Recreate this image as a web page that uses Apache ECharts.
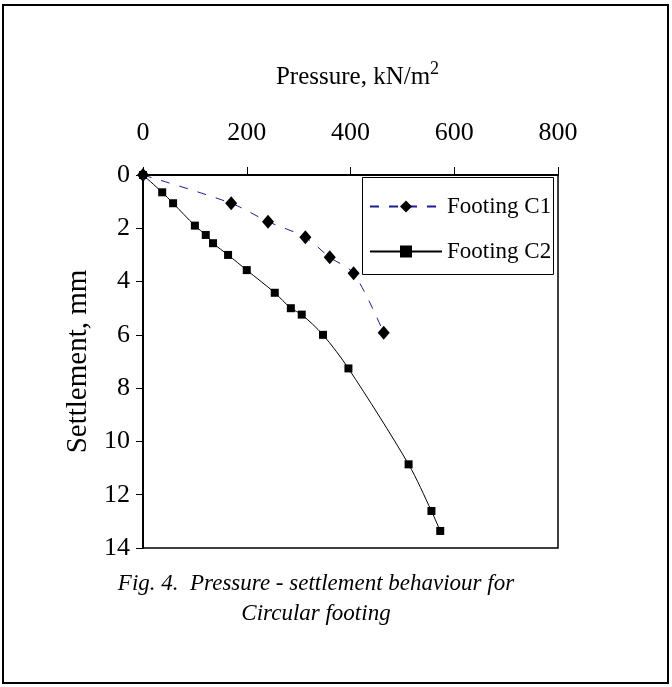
<!DOCTYPE html>
<html>
<head>
<meta charset="utf-8">
<script src="https://cdn.jsdelivr.net/npm/echarts@6/dist/echarts.min.js"></script>
<style>
  html, body { margin: 0; padding: 0; background: #fff; }
  #chart { width: 672px; height: 687px; }
</style>
</head>
<body>
<div id="chart"></div>
<script>
// pressure (kN/m2) vs settlement (mm)
const c1Pressure = [0, 170, 241, 313, 360, 406, 464];
const c1Settlement = [0, 1.06, 1.75, 2.34, 3.09, 3.69, 5.92];
const c2Pressure = [0, 37, 58, 100, 121, 135, 164, 200, 254, 285, 306, 347, 396, 512, 556, 573];
const c2Settlement = [0, 0.65, 1.06, 1.9, 2.25, 2.56, 3.0, 3.57, 4.42, 5.0, 5.24, 6.0, 7.26, 10.86, 12.61, 13.36];
const seriesNames = ["Footing C1", "Footing C2"];

const font = "'Liberation Serif', 'Times New Roman', serif";
const pairs = (xs, ys) => xs.map((x, i) => [x, ys[i]]);

const chart = echarts.init(document.getElementById("chart"));
chart.setOption({
  backgroundColor: "#fff",
  animation: false,
  textStyle: { fontFamily: font, color: "#000" },
  grid: {
    left: 143, top: 175, width: 415, height: 373,
    show: true, borderColor: "#000", borderWidth: 1.5,
  },
  legend: {
    data: seriesNames,
    orient: "vertical",
    left: 364, top: 190,
    itemWidth: 72, itemHeight: 15, itemGap: 22,
    textStyle: { fontFamily: font, fontSize: 23, color: "#000" },
  },
  xAxis: {
    type: "value",
    position: "top",
    min: 0, max: 800, interval: 200,
    name: "Pressure, kN/m{s|2}",
    nameLocation: "middle",
    nameGap: 80,
    nameTextStyle: {
      fontFamily: font, fontSize: 25, color: "#000", padding: [0, 0, 0, 14],
      rich: { s: { fontFamily: font, fontSize: 18, color: "#000", padding: [0, 0, 17, 0] } },
    },
    axisLine: { lineStyle: { color: "#000", width: 2 } },
    axisTick: { length: 8, lineStyle: { color: "#000" } },
    axisLabel: { fontFamily: font, fontSize: 26, color: "#000", margin: 29 },
    splitLine: { show: false },
  },
  yAxis: {
    type: "value",
    inverse: true,
    min: 0, max: 14, interval: 2,
    name: "Settlement, mm",
    nameLocation: "middle",
    nameRotate: 90,
    nameGap: 46,
    nameTextStyle: { fontFamily: font, fontSize: 29, color: "#000" },
    axisLine: { lineStyle: { color: "#000", width: 2 } },
    axisTick: { length: 7, lineStyle: { color: "#000" } },
    axisLabel: { fontFamily: font, fontSize: 26, color: "#000", margin: 13 },
    splitLine: { show: false },
  },
  series: [
    {
      name: seriesNames[0],
      type: "line",
      data: pairs(c1Pressure, c1Settlement),
      smooth: 0.3,
      symbol: "diamond",
      symbolSize: [12, 14],
      itemStyle: { color: "#000" },
      lineStyle: { color: "#1c1c96", width: 1, type: [9, 10] },
    },
    {
      name: seriesNames[1],
      type: "line",
      data: pairs(c2Pressure, c2Settlement),
      smooth: 0.3,
      symbol: "rect",
      symbolSize: 8,
      itemStyle: { color: "#000" },
      lineStyle: { color: "#000", width: 1 },
    },
  ],
  graphic: [
    {
      type: "rect",
      shape: { x: 3, y: 5, width: 665, height: 678 },
      style: { fill: null, stroke: "#000", lineWidth: 2 },
      silent: true,
    },
    {
      type: "rect",
      shape: { x: 362.5, y: 177.5, width: 191, height: 97 },
      style: { fill: null, stroke: "#000", lineWidth: 1 },
      silent: true,
    },
    {
      type: "text",
      x: 316, y: 569,
      style: {
        text: "Fig. 4.  Pressure - settlement behaviour for\nCircular footing",
        font: "italic 23px " + font,
        fill: "#000",
        align: "center",
        lineHeight: 30,
      },
    },
  ],
});
</script>
</body>
</html>
